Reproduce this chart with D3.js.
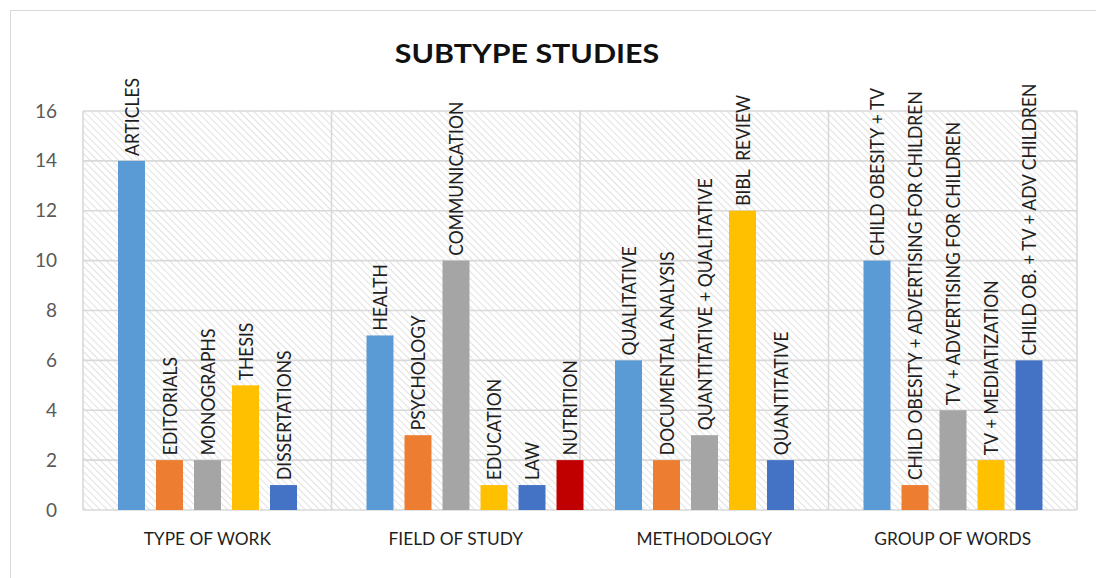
<!DOCTYPE html>
<html>
<head>
<meta charset="utf-8">
<script src="https://cdn.jsdelivr.net/npm/d3@7/dist/d3.min.js"></script>
<style>
  html, body { margin: 0; padding: 0; background: #ffffff; }
  svg { display: block; }
  text { font-family: Lato, "Open Sans", "Liberation Sans", sans-serif; }
</style>
</head>
<body>
<svg id="chart" width="1096" height="578"></svg>
<script>
// ---- data ----
const title = "SUBTYPE STUDIES";
const groups = ["TYPE OF WORK", "FIELD OF STUDY", "METHODOLOGY", "GROUP OF WORDS"];

const typeOfWorkLabels = ["ARTICLES", "EDITORIALS", "MONOGRAPHS", "THESIS", "DISSERTATIONS"];
const typeOfWorkValues = [14, 2, 2, 5, 1];

const fieldOfStudyLabels = ["HEALTH", "PSYCHOLOGY", "COMMUNICATION", "EDUCATION", "LAW", "NUTRITION"];
const fieldOfStudyValues = [7, 3, 10, 1, 1, 2];

const methodologyLabels = ["QUALITATIVE", "DOCUMENTAL ANALYSIS", "QUANTITATIVE + QUALITATIVE", "BIBL  REVIEW", "QUANTITATIVE"];
const methodologyValues = [6, 2, 3, 12, 2];

const groupOfWordsLabels = ["CHILD OBESITY + TV", "CHILD OBESITY + ADVERTISING FOR CHILDREN", "TV + ADVERTISING FOR CHILDREN", "TV + MEDIATIZATION", "CHILD OB. + TV + ADV CHILDREN"];
const groupOfWordsValues = [10, 1, 4, 2, 6];

const yTickValues = [0, 2, 4, 6, 8, 10, 12, 14, 16];

// ---- styles ----
const seriesColors = ["#5B9BD5", "#ED7D31", "#A5A5A5", "#FFC000", "#4472C4", "#C00000"];

const groupLabels = [typeOfWorkLabels, fieldOfStudyLabels, methodologyLabels, groupOfWordsLabels];
const groupValues = [typeOfWorkValues, fieldOfStudyValues, methodologyValues, groupOfWordsValues];

const rows = [];
groups.forEach((g, gi) => {
  groupLabels[gi].forEach((lab, i) => rows.push({ group: g, slot: i, label: lab, value: groupValues[gi][i] }));
});

const svg = d3.select("#chart");
const plot = { left: 83, right: 1077, top: 111, bottom: 510 };

// outer chart border
svg.append("rect")
  .attr("x", 10.5).attr("y", 10.5)
  .attr("width", 1100).attr("height", 600)
  .attr("fill", "#ffffff").attr("stroke", "#d9d9d9").attr("stroke-width", 1);

// hatch pattern (lines running from upper-left to lower-right)
const defs = svg.append("defs");
const pat = defs.append("pattern")
  .attr("id", "hatch").attr("patternUnits", "userSpaceOnUse")
  .attr("width", 5).attr("height", 5)
  .attr("patternTransform", "rotate(-45)");
pat.append("rect").attr("width", 5).attr("height", 5).attr("fill", "#ffffff");
pat.append("line").attr("x1", 0).attr("y1", 0).attr("x2", 0).attr("y2", 5)
  .attr("stroke", "#cdcdcd").attr("stroke-width", 1.2);

const x0 = d3.scaleBand().domain(groups).range([plot.left, plot.right]).padding(0);
const x1 = d3.scaleBand().domain(d3.range(6)).range([35, 35 + 5 * 38 + 27]).paddingInner(0.29).paddingOuter(0);
const y = d3.scaleLinear().domain([0, 16]).range([plot.bottom, plot.top]);

// plot background
svg.append("rect")
  .attr("x", plot.left).attr("y", plot.top)
  .attr("width", plot.right - plot.left).attr("height", plot.bottom - plot.top)
  .attr("fill", "url(#hatch)");

// horizontal gridlines
svg.append("g").selectAll("line").data(yTickValues).join("line")
  .attr("x1", plot.left).attr("x2", plot.right)
  .attr("y1", d => y(d)).attr("y2", d => y(d))
  .attr("stroke", "#d9d9d9").attr("stroke-width", 1.6);

// vertical group dividers
const dividers = groups.map(g => x0(g)).concat([x0.range()[1]]);
svg.append("g").selectAll("line").data(dividers).join("line")
  .attr("x1", d => d).attr("x2", d => d)
  .attr("y1", plot.top).attr("y2", plot.bottom)
  .attr("stroke", "#d9d9d9").attr("stroke-width", 1.6);

// y axis labels
const yAxis = d3.axisLeft(y).tickValues(yTickValues).tickSize(0).tickPadding(0);
const yg = svg.append("g").attr("transform", `translate(57,0)`).call(yAxis);
yg.select(".domain").remove();
yg.selectAll("text")
  .attr("fill", "#595959").attr("font-size", 19)
  .style("font-family", "Lato, 'Open Sans', sans-serif");

// bars
svg.append("g").selectAll("rect").data(rows).join("rect")
  .attr("x", d => x0(d.group) + x1(d.slot))
  .attr("width", x1.bandwidth())
  .attr("y", d => y(d.value))
  .attr("height", d => y(0) - y(d.value))
  .attr("fill", d => seriesColors[d.slot]);

// bar labels
svg.append("g").selectAll("text").data(rows).join("text")
  .attr("transform", d => `translate(${x0(d.group) + x1(d.slot) + x1.bandwidth() / 2},${y(d.value) - 5}) rotate(-90) scale(1,1.15)`)
  .attr("dy", "0.36em")
  .attr("text-anchor", "start")
  .attr("font-size", 17.5)
  .attr("fill", "#1f1f1f")
  .style("white-space", "pre")
  .text(d => d.label);

// category labels
svg.append("g").selectAll("text").data(groups).join("text")
  .attr("transform", d => `translate(${x0(d) + x0.bandwidth() / 2},545) scale(1.05,1)`)
  .attr("text-anchor", "middle")
  .attr("font-size", 16.5)
  .attr("fill", "#1f1f1f")
  .text(d => d);

// title
svg.append("text")
  .attr("transform", "translate(527,63) scale(1.17,1)")
  .attr("text-anchor", "middle")
  .attr("font-size", 26)
  .attr("font-weight", 700)
  .attr("fill", "#111111")
  .text(title);
</script>
</body>
</html>
